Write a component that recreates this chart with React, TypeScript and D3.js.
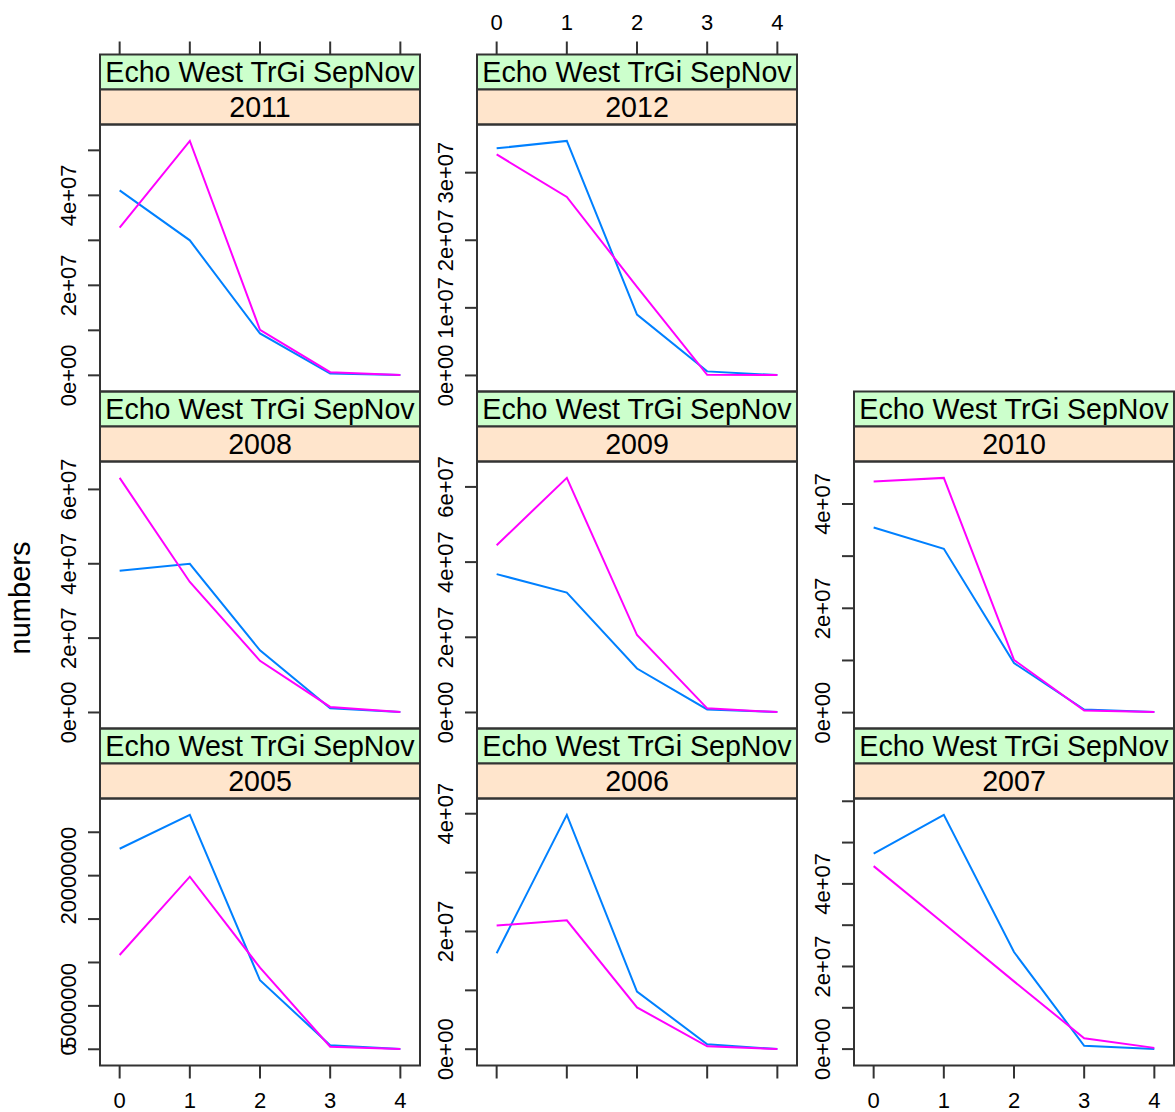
import React from "react";
import * as d3 from "d3";

const W = 1175;
const H = 1112;

// panel order as lattice lays it out: bottom row first, left to right
const years = ["2005", "2006", "2007", "2008", "2009", "2010", "2011", "2012"];
const ages = [0, 1, 2, 3, 4];
const outerStrip = "Echo West TrGi SepNov";

// blue group (first series), one row per year
const blueSeries = [
  [2.31e7, 2.7e7, 0.795e7, 0.046e7, 0.002e7],
  [1.63e7, 3.98e7, 0.98e7, 0.085e7, 0.002e7],
  [4.73e7, 5.67e7, 2.35e7, 0.08e7, 0.0e7],
  [3.81e7, 4.0e7, 1.67e7, 0.11e7, 0.01e7],
  [3.68e7, 3.19e7, 1.17e7, 0.08e7, 0.01e7],
  [3.55e7, 3.14e7, 0.95e7, 0.06e7, 0.01e7],
  [4.11e7, 3.0e7, 0.93e7, 0.04e7, 0.005e7],
  [3.36e7, 3.47e7, 0.9e7, 0.06e7, 0.005e7],
];

// magenta group (second series)
const pinkSeries = [
  [1.086e7, 1.988e7, 0.94e7, 0.03e7, 0.002e7],
  [2.1e7, 2.19e7, 0.71e7, 0.05e7, 0.002e7],
  [4.43e7, 3.04e7, 1.64e7, 0.26e7, 0.03e7],
  [6.31e7, 3.51e7, 1.39e7, 0.15e7, 0.01e7],
  [4.45e7, 6.24e7, 2.06e7, 0.11e7, 0.01e7],
  [4.43e7, 4.5e7, 1.01e7, 0.04e7, 0.01e7],
  [3.28e7, 5.21e7, 1.01e7, 0.07e7, 0.005e7],
  [3.27e7, 2.64e7, 1.31e7, 0.01e7, 0.005e7],
];

const yTicks = [
  [0, 5e6, 1e7, 1.5e7, 2e7, 2.5e7],
  [0, 1e7, 2e7, 3e7, 4e7],
  [0, 1e7, 2e7, 3e7, 4e7, 5e7, 6e7],
  [0, 2e7, 4e7, 6e7],
  [0, 2e7, 4e7, 6e7],
  [0, 1e7, 2e7, 3e7, 4e7],
  [0, 1e7, 2e7, 3e7, 4e7, 5e7],
  [0, 1e7, 2e7, 3e7],
];

const yLabelVals = [
  [0, 5e6, 2e7],
  [0, 2e7, 4e7],
  [0, 2e7, 4e7],
  [0, 2e7, 4e7, 6e7],
  [0, 2e7, 4e7, 6e7],
  [0, 2e7, 4e7],
  [0, 2e7, 4e7],
  [0, 1e7, 2e7, 3e7],
];

const plainYears = ["2005"];

const sci = (v: number) => {
  if (v === 0) return "0e+00";
  const e = Math.floor(Math.log10(Math.abs(v)));
  const m = Math.round(v / Math.pow(10, e));
  return `${m}e${e >= 0 ? "+" : "-"}${String(Math.abs(e)).padStart(2, "0")}`;
};

const FONT = "Liberation Sans, Arial, Helvetica, sans-serif";
const BORDER = "#333";
const STRIP_H = 35;
const PANEL_H = 267;
const PANEL_W = 320;
const STRIP_FS = 28.6;
const TICK_FS = 22;
const colLeft = [100, 477, 854];
const rowTop = [54.5, 391.5, 728.5]; // top row first

const Panel = ({ i }) => {
  const col = i % 3;
  const row = 2 - Math.floor(i / 3);
  const left = colLeft[col];
  const top = rowTop[row];
  const pTop = top + 2 * STRIP_H;
  const pBottom = pTop + PANEL_H;
  const right = left + PANEL_W;

  const x = d3.scaleLinear().domain([-0.28, 4.28]).range([left, right]);
  const all = blueSeries[i].concat(pinkSeries[i]);
  const lo = d3.min(all);
  const hi = d3.max(all);
  const pad = (hi - lo) * 0.07;
  const y = d3.scaleLinear().domain([lo - pad, hi + pad]).range([pBottom, pTop]);

  const line = d3
    .line<number>()
    .x((d, k) => x(ages[k]))
    .y((d) => y(d));

  const fmt = plainYears.includes(years[i]) ? d3.format("d") : sci;
  const ticks = yTicks[i].filter((t) => y(t) >= pTop && y(t) <= pBottom);

  const isTopRow = row === 0;
  const isBottomRow = row === 2;
  const xt = 13;

  return (
    <g>
      {/* strips */}
      <rect x={left} y={top} width={PANEL_W} height={STRIP_H} fill="#ccffcc" stroke={BORDER} strokeWidth={2} />
      <text x={(left + right) / 2} y={top + STRIP_H / 2 + 10} textAnchor="middle" fontSize={STRIP_FS} fontFamily={FONT} fill="#000">
        {outerStrip}
      </text>
      <rect x={left} y={top + STRIP_H} width={PANEL_W} height={STRIP_H} fill="#ffe5cc" stroke={BORDER} strokeWidth={2} />
      <text x={(left + right) / 2} y={top + STRIP_H * 1.5 + 10} textAnchor="middle" fontSize={STRIP_FS} fontFamily={FONT} fill="#000">
        {years[i]}
      </text>

      {/* data */}
      <path d={line(blueSeries[i])} fill="none" stroke="#0080ff" strokeWidth={2} />
      <path d={line(pinkSeries[i])} fill="none" stroke="#ff00ff" strokeWidth={2} />

      <rect x={left} y={pTop} width={PANEL_W} height={PANEL_H} fill="none" stroke={BORDER} strokeWidth={2} />

      {/* y axis, left */}
      {ticks.map((t) => (
        <line key={t} x1={left - 12} x2={left} y1={y(t)} y2={y(t)} stroke={BORDER} strokeWidth={2} />
      ))}
      {yLabelVals[i].map((t) => (
        <text
          key={t}
          transform={`translate(${left - 24.5},${y(t)}) rotate(-90)`}
          textAnchor="middle"
          fontSize={TICK_FS}
          fontFamily={FONT}
          fill="#000"
        >
          {fmt(t)}
        </text>
      ))}

      {/* x axis: top for the top row, bottom for the bottom row */}
      {isTopRow &&
        ages.map((a) => (
          <line key={"t" + a} x1={x(a)} x2={x(a)} y1={top} y2={top - xt} stroke={BORDER} strokeWidth={2} />
        ))}
      {isTopRow &&
        col === 1 &&
        ages.map((a) => (
          <text key={"tl" + a} x={x(a)} y={30} textAnchor="middle" fontSize={TICK_FS} fontFamily={FONT} fill="#000">
            {a}
          </text>
        ))}
      {isBottomRow &&
        ages.map((a) => (
          <line key={"b" + a} x1={x(a)} x2={x(a)} y1={pBottom} y2={pBottom + xt} stroke={BORDER} strokeWidth={2} />
        ))}
      {isBottomRow &&
        col !== 1 &&
        ages.map((a) => (
          <text key={"bl" + a} x={x(a)} y={1108} textAnchor="middle" fontSize={TICK_FS} fontFamily={FONT} fill="#000">
            {a}
          </text>
        ))}
    </g>
  );
};

export default function App() {
  return (
    <svg
      width={W}
      height={H}
      style={{ position: "absolute", left: 0, top: 0, background: "#fff" }}
    >
      <rect width={W} height={H} fill="#fff" />
      {years.map((yr, i) => (
        <Panel key={yr} i={i} />
      ))}
      <text transform="translate(30,598) rotate(-90)" textAnchor="middle" fontSize={29} fontFamily={FONT} fill="#000">
        numbers
      </text>
    </svg>
  );
}
